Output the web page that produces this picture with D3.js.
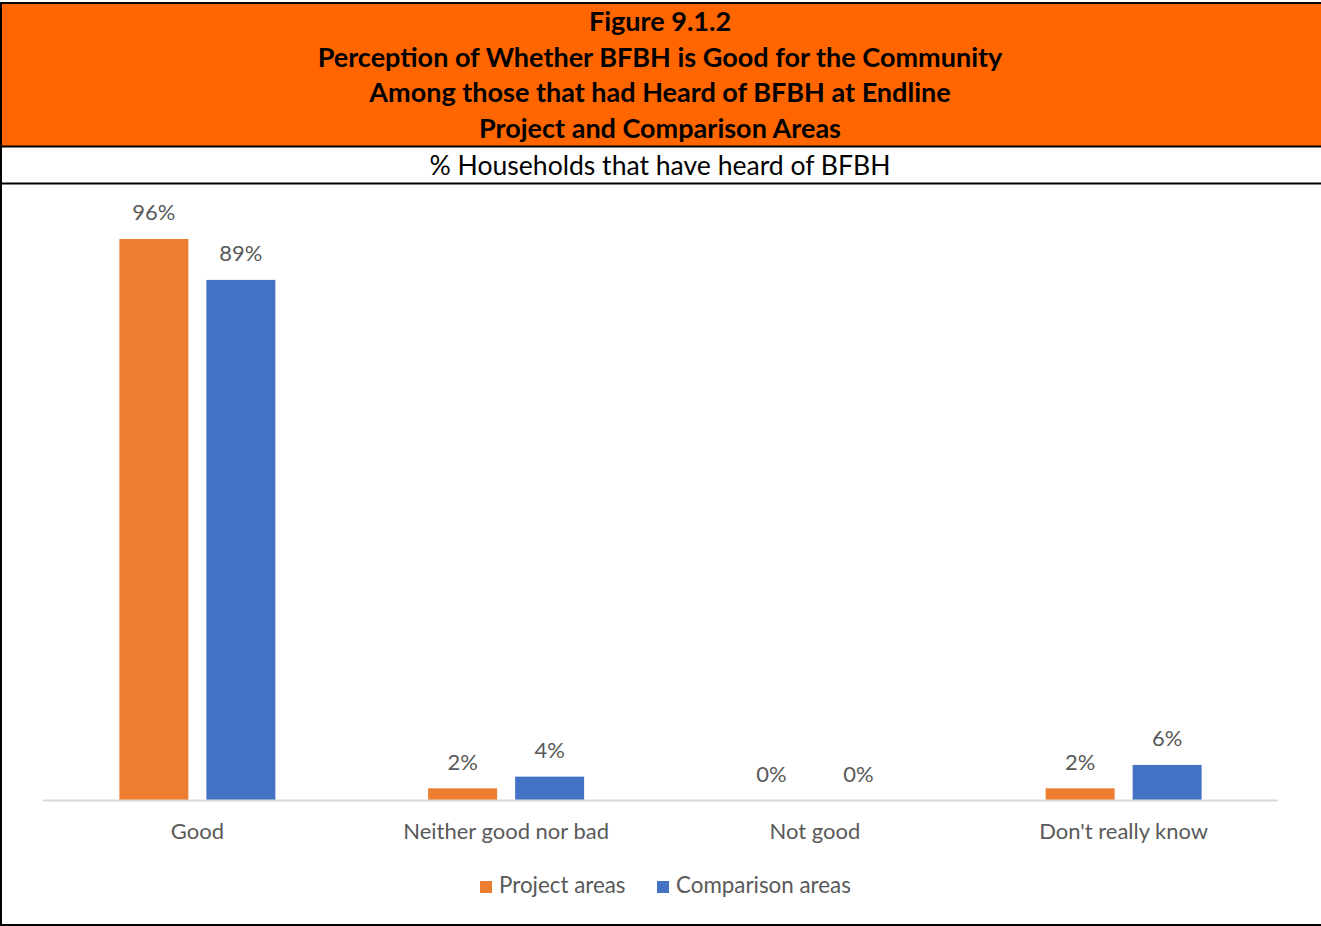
<!DOCTYPE html>
<html>
<head>
<meta charset="utf-8">
<script src="https://cdn.jsdelivr.net/npm/d3@7"></script>
<style>
  html, body { margin: 0; padding: 0; background: #fff; }
  svg { display: block; }
</style>
</head>
<body>
<svg id="chart" width="1321" height="926"></svg>
<script>
// Chart data
const titleLines = [
  "Figure 9.1.2",
  "Perception of Whether BFBH is Good for the Community",
  "Among those that had Heard of BFBH at Endline",
  "Project and Comparison Areas"
];
const subtitle = "% Households that have heard of BFBH";
const categories = ["Good", "Neither good nor bad", "Not good", "Don't really know"];
const seriesNames = ["Project areas", "Comparison areas"];
const projectValues = [0.96, 0.02, 0.00, 0.02];
const comparisonValues = [0.89, 0.04, 0.00, 0.06];
const seriesColors = ["#ED7D31", "#4472C4"];

const FONT = "Lato, 'Noto Sans', sans-serif";
const svg = d3.select("#chart");

// Size a font so a sample string spans a given width
function fitSize(sample, targetWidth, weight) {
  const t = svg.append("text")
    .attr("font-family", FONT)
    .attr("font-weight", weight || "normal")
    .attr("font-size", 100)
    .text(sample);
  const w = t.node().getComputedTextLength();
  t.remove();
  return 100 * targetWidth / w;
}

// Header band
svg.append("rect").attr("x", 1).attr("y", 3).attr("width", 1320).attr("height", 143)
  .attr("fill", "#FF6600");

const titleSize = fitSize(titleLines[1], 685, "bold");
svg.append("g").selectAll("text").data(titleLines).join("text")
  .attr("x", 660)
  .attr("y", (d, i) => 31 + i * 35.7)
  .attr("text-anchor", "middle")
  .attr("font-family", FONT)
  .attr("font-weight", "bold")
  .attr("font-size", titleSize)
  .attr("fill", "#000")
  .text(d => d);

// Subtitle row
svg.append("text")
  .attr("x", 660).attr("y", 175)
  .attr("text-anchor", "middle")
  .attr("font-family", FONT)
  .attr("font-size", fitSize(subtitle, 461))
  .attr("fill", "#000")
  .text(subtitle);

// Frame lines
const frame = svg.append("g").attr("stroke", "#000").attr("stroke-width", 2);
frame.append("line").attr("x1", 0).attr("x2", 1321).attr("y1", 3).attr("y2", 3);
frame.append("line").attr("x1", 0).attr("x2", 1321).attr("y1", 146.5).attr("y2", 146.5);
frame.append("line").attr("x1", 0).attr("x2", 1321).attr("y1", 183.5).attr("y2", 183.5);
frame.append("line").attr("x1", 0).attr("x2", 1321).attr("y1", 925).attr("y2", 925);
frame.append("line").attr("x1", 1).attr("x2", 1).attr("y1", 2).attr("y2", 926);

// Scales
const x0 = d3.scaleBand().domain(categories).range([43, 1278]).paddingInner(0).paddingOuter(0);
const x1 = d3.scaleBand().domain(seriesNames).range([0, x0.bandwidth()])
  .paddingInner(0.207).paddingOuter(0.878);
const y = d3.scaleLinear().domain([0, 1]).range([800, 215.6]);

const rows = categories.map((c, i) => ({
  category: c,
  values: [
    { series: seriesNames[0], value: projectValues[i], color: seriesColors[0] },
    { series: seriesNames[1], value: comparisonValues[i], color: seriesColors[1] }
  ]
}));

const labelSize = fitSize("Don't really know", 169);

// Bars
const groups = svg.append("g").selectAll("g").data(rows).join("g")
  .attr("transform", d => `translate(${x0(d.category)},0)`);

groups.selectAll("rect").data(d => d.values).join("rect")
  .attr("x", d => x1(d.series))
  .attr("y", d => y(d.value))
  .attr("width", x1.bandwidth())
  .attr("height", d => y(0) - y(d.value))
  .attr("fill", d => d.color);

// Value labels
groups.selectAll("text").data(d => d.values).join("text")
  .attr("x", d => x1(d.series) + x1.bandwidth() / 2)
  .attr("y", d => y(d.value) - 18.5)
  .attr("text-anchor", "middle")
  .attr("font-family", FONT)
  .attr("font-size", labelSize)
  .attr("fill", "#595959")
  .text(d => d3.format(".0%")(d.value));

// Category axis
const xAxis = svg.append("g")
  .attr("transform", `translate(0,${y(0)})`)
  .call(d3.axisBottom(x0).tickSize(0).tickPadding(23));
xAxis.select(".domain").attr("stroke", "#D9D9D9").attr("stroke-width", 2)
  .attr("d", "M43,0.5H1278");
xAxis.selectAll("text")
  .attr("font-family", FONT)
  .attr("font-size", labelSize)
  .attr("fill", "#595959")
  .attr("dy", "0.71em");

// Legend
const legendX = [480, 657];
const legend = svg.append("g").selectAll("g").data(seriesNames).join("g")
  .attr("transform", (d, i) => `translate(${legendX[i]},881)`);
legend.append("rect").attr("width", 12).attr("height", 12)
  .attr("fill", (d, i) => seriesColors[i]);
legend.append("text")
  .attr("x", 19).attr("y", 12)
  .attr("font-family", FONT)
  .attr("font-size", fitSize("Comparison areas", 175))
  .attr("fill", "#595959")
  .text(d => d);
</script>
</body>
</html>
